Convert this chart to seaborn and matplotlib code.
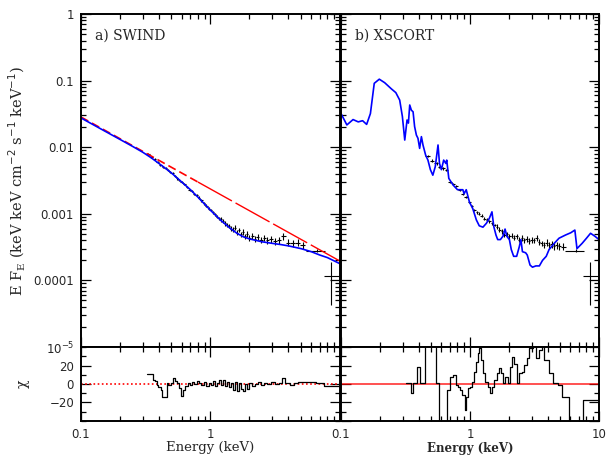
import numpy as np
import matplotlib
matplotlib.use("Agg")
import matplotlib.pyplot as plt
import seaborn as sns
from matplotlib.ticker import LogLocator, MultipleLocator, NullFormatter

# ---- panel a) SWIND : model curves ----
sw_model_e = [0.1, 0.15, 0.2, 0.25, 0.3, 0.35, 0.4, 0.45, 0.5, 0.6, 0.7, 0.8, 0.9, 1.0,
              1.2, 1.4, 1.6, 1.8, 2.0, 2.5, 3.0, 3.5, 4.0, 5.0, 6.0, 7.0, 8.0, 10.0]
sw_model_f = [0.0275, 0.0178, 0.0131, 0.0103, 0.0084, 0.0069, 0.0057, 0.0048, 0.0041,
              0.0030, 0.0023, 0.00178, 0.00140, 0.00113, 0.00080, 0.00062, 0.00051,
              0.00045, 0.00042, 0.00038, 0.00036, 0.000345, 0.00033, 0.00030, 0.00027,
              0.00024, 0.00022, 0.000178]
sw_pl_e = [0.1, 0.8, 10.0]
sw_pl_f = [0.0284, 0.0030, 0.000195]

# ---- panel a) unfolded data ----
sw_data_e = [0.33, 0.35, 0.37, 0.39, 0.41, 0.43, 0.45, 0.47, 0.49, 0.51, 0.53, 0.55, 0.57,
             0.60, 0.63, 0.66, 0.69, 0.72, 0.75, 0.78, 0.81, 0.85, 0.89, 0.93, 0.97, 1.01,
             1.05, 1.09, 1.13, 1.17, 1.21, 1.25, 1.30, 1.35, 1.40, 1.45, 1.50, 1.55, 1.60,
             1.66, 1.72, 1.78, 1.85, 1.92, 2.00, 2.10, 2.20, 2.32, 2.45, 2.60, 2.75, 2.95,
             3.15, 3.40, 3.65, 3.95, 4.30, 4.70, 5.15]
sw_data_f = [0.0080, 0.0071, 0.0066, 0.0060, 0.0054, 0.0050, 0.0049, 0.0045, 0.0042,
             0.0041, 0.0037, 0.0034, 0.0032, 0.0030, 0.0028, 0.0025, 0.0023, 0.0022,
             0.0020, 0.0019, 0.00175, 0.00160, 0.00145, 0.00133, 0.00120, 0.00114,
             0.00105, 0.00098, 0.00090, 0.00086, 0.00083, 0.00078, 0.00072, 0.00068,
             0.00066, 0.00060, 0.00058, 0.00062, 0.00052, 0.00057, 0.00049, 0.00053,
             0.00046, 0.00050, 0.00044, 0.00047, 0.00042, 0.00045, 0.00041, 0.00043,
             0.00040, 0.00042, 0.00039, 0.00040, 0.00046, 0.00037, 0.00036, 0.00037,
             0.00034]
sw_data_rel = [0.04] * 20 + [0.05] * 10 + [0.08] * 10 + [0.10] * 10 + [0.12] * 9

# wide high-energy bins (same in both panels)
wide_e = [6.6, 8.5]
wide_elo = [5.5, 7.5]
wide_ehi = [7.6, 10.0]
wide_f = [0.00028, 0.000115]
wide_flo = [0.000265, 0.000042]
wide_fhi = [0.000295, 0.000190]

# ---- panel a) residuals ----
sw_res_edges = [0.325, 0.357, 0.372, 0.384, 0.396, 0.413, 0.426, 0.459, 0.472, 0.493, 0.51,
                0.532, 0.549, 0.575, 0.588, 0.617, 0.635, 0.674, 0.69, 0.72, 0.75, 0.78,
                0.81, 0.85, 0.89, 0.93, 0.97, 1.01, 1.05, 1.09, 1.13, 1.17, 1.21, 1.25,
                1.30, 1.35, 1.40, 1.45, 1.50, 1.55, 1.60, 1.66, 1.72, 1.78, 1.85, 1.92,
                2.00, 2.10, 2.20, 2.32, 2.45, 2.60, 2.75, 2.95, 3.15, 3.40, 3.55, 3.75,
                4.1, 4.4, 4.75, 5.5, 6.5, 7.5, 10.0]
sw_res_chi = [10.5, 4, 3, -1, -3, -6.5, -14.4, 1, -1, 1.6, 6, 3, 1, -4.3, -13, -6.5, -2.5, 1,
              -1, 2, 0, 3, 1, -1, 2, -2, 1, -1, 3, -2, 1, 4, -1, 4, -2, 2, -3, 1, -6, 2,
              -8, 1, -5, -8, 0, -5, 1, -2, 0, 2, -1, 1, 0, 2, 0, 1, 6, 1, -1, 1, 2, 2,
              1, -2]

# ---- panel b) XSCORT : model curve ----
xs_model_e = [0.100, 0.111, 0.124, 0.136, 0.147, 0.158, 0.169, 0.181, 0.198, 0.218, 0.246,
              0.266, 0.285, 0.299, 0.312, 0.325, 0.333, 0.341, 0.351, 0.362, 0.372, 0.384,
              0.395, 0.407, 0.420, 0.432, 0.453, 0.472, 0.493, 0.515, 0.538, 0.565, 0.580,
              0.600, 0.625, 0.650, 0.660, 0.685, 0.740, 0.800, 0.880, 0.900, 0.935, 0.990,
              1.05, 1.12, 1.18, 1.26, 1.34, 1.41, 1.48, 1.53, 1.59, 1.64, 1.72, 1.80, 1.87,
              1.93, 2.02, 2.09, 2.18, 2.30, 2.41, 2.48, 2.55, 2.70, 2.78, 2.92, 3.05, 3.24,
              3.45, 3.65, 3.90, 4.10, 4.50, 4.90, 5.50, 6.05, 6.50, 6.75, 7.40, 8.00, 8.60,
              9.30, 10.0]
xs_model_f = [0.032, 0.0216, 0.026, 0.024, 0.025, 0.022, 0.032, 0.091, 0.105, 0.093, 0.075,
              0.066, 0.051, 0.029, 0.0128, 0.0256, 0.023, 0.043, 0.036, 0.034, 0.0204,
              0.0152, 0.0136, 0.0096, 0.0144, 0.0108, 0.0076, 0.0064, 0.0046, 0.0038,
              0.0051, 0.0108, 0.0057, 0.0046, 0.0064, 0.0057, 0.0064, 0.0034, 0.0027,
              0.0023, 0.0023, 0.0020, 0.0023, 0.0015, 0.0012, 0.00081, 0.00066, 0.00063,
              0.00072, 0.00085, 0.00107, 0.00064, 0.00048, 0.00041, 0.00041, 0.00046,
              0.00059, 0.00046, 0.00041, 0.00029, 0.00023, 0.00023, 0.00032, 0.00041,
              0.00027, 0.00026, 0.00024, 0.00017, 0.000158, 0.000165, 0.000165, 0.00020,
              0.00023, 0.00029, 0.00036, 0.00043, 0.00048, 0.00052, 0.00057, 0.00030,
              0.00036, 0.00043, 0.00051, 0.00046, 0.00041]

# ---- panel b) unfolded data ----
xs_data_e = [0.47, 0.51, 0.55, 0.58, 0.62, 0.65,
             0.70, 0.74, 0.78, 0.83, 0.88, 0.93, 0.99, 1.04, 1.08, 1.13, 1.18, 1.23, 1.29,
             1.35, 1.41, 1.48, 1.55, 1.62, 1.69, 1.77, 1.85, 1.93, 2.02, 2.11, 2.20, 2.30,
             2.41, 2.52, 2.63, 2.75, 2.87, 3.00, 3.14, 3.28, 3.43, 3.60, 3.76, 3.93, 4.10,
             4.30, 4.50, 4.70, 4.90, 5.30]
xs_data_f = [0.0074, 0.0063, 0.0057,
             0.0050, 0.0048, 0.0045, 0.0030, 0.0028, 0.0026, 0.0023, 0.0020, 0.0018,
             0.0015, 0.0013, 0.00114, 0.00106, 0.0010, 0.00094, 0.00085, 0.00082,
             0.00077, 0.00072, 0.00068, 0.00064, 0.00058, 0.00055, 0.00048, 0.00050,
             0.00046, 0.00047, 0.00044, 0.00046, 0.00041, 0.00043, 0.00040, 0.00042,
             0.00039, 0.00041, 0.00040, 0.00043, 0.00038, 0.00036, 0.00034, 0.00037,
             0.00034, 0.00035, 0.00033, 0.00034, 0.00033, 0.00032]
xs_data_rel = [0.04] * 13 + [0.05] * 10 + [0.08] * 10 + [0.10] * 10 + [0.12] * 7

# ---- panel b) residuals ----
xs_res_edges = [0.3215, 0.347, 0.362, 0.3885, 0.4074, 0.4454, 0.4642, 0.5164, 0.548, 0.5745,
                0.6624, 0.6947, 0.7368, 0.7727, 0.8054, 0.8397, 0.870, 0.907, 0.934, 0.9623,
                1.003, 1.039, 1.083, 1.116, 1.15, 1.184, 1.22, 1.256, 1.31, 1.373, 1.431,
                1.483, 1.546, 1.612, 1.67, 1.741, 1.793, 1.869, 1.959, 2.043, 2.117, 2.207,
                2.30, 2.412, 2.529, 2.636, 2.748, 2.88, 3.056, 3.243, 3.442, 3.609, 3.762,
                4.063, 4.363, 4.77, 5.15, 5.867, 7.52, 10.0]
xs_res_chi = [0.7, -10, 0.7, 18.7, 0.7, 45, 55, 45, 0.7, -50, -6.5, 8, 9.7, -1, -3, -6.5,
              -12, -28, -13.7, -4.7, -3, 2.5, 13, 24, 33, 38.5, 26, 11.5, 2.5, -3, -10, -3,
              4.3, 11.5, 17, 11.5, 0.7, 8, 0.7, 18.7, 29.5, 22, 0.7, 11.5, 13, 20.5, 27.7,
              38.5, 45, 27.7, 36.7, 45, 26, 11.5, 0.7, -1, -14.4, -50, -17.3]

BLUE = "#0000ff"
RED = "#ff0000"
SERIF = "DejaVu Serif"

sns.set_style("ticks")
plt.rcParams["font.family"] = ["DejaVu Sans"]
plt.rcParams["mathtext.fontset"] = "dejavusans"


def estilo_eixo(ax, log_y=True):
    ax.set_xscale("log")
    ax.set_xlim(0.1, 10)
    ax.xaxis.set_major_locator(LogLocator(base=10))
    ax.xaxis.set_minor_locator(LogLocator(base=10, subs=np.arange(2, 10)))
    ax.xaxis.set_minor_formatter(NullFormatter())
    if log_y:
        ax.set_yscale("log")
        ax.set_ylim(1e-5, 1)
        ax.yaxis.set_minor_locator(LogLocator(base=10, subs=np.arange(2, 10)))
        ax.yaxis.set_minor_formatter(NullFormatter())
    else:
        ax.set_ylim(-40, 40)
        ax.yaxis.set_major_locator(MultipleLocator(20))
        ax.yaxis.set_minor_locator(MultipleLocator(10))
    ax.tick_params(which="both", direction="in", top=True, right=True,
                   color="black", width=0.9, labelsize=8.5, pad=5)
    ax.tick_params(which="major", length=7)
    ax.tick_params(which="minor", length=3.5)
    for s in ax.spines.values():
        s.set_linewidth(1.4)
        s.set_color("black")
    ax.set_facecolor("white")


def desenhar_dados(ax, e, f, rel):
    e = np.array(e)
    f = np.array(f)
    borda = np.sqrt(e[:-1] * e[1:])
    lo = np.concatenate([[e[0] - (borda[0] - e[0])], borda])
    hi = np.concatenate([borda, [e[-1] + (e[-1] - borda[-1])]])
    ax.errorbar(e, f, xerr=[e - lo, hi - e], yerr=np.array(rel) * f,
                fmt="none", ecolor="black", elinewidth=0.8, zorder=2)
    we = np.array(wide_e)
    wf = np.array(wide_f)
    ax.errorbar(we, wf, xerr=[we - np.array(wide_elo), np.array(wide_ehi) - we],
                yerr=[wf - np.array(wide_flo), np.array(wide_fhi) - wf],
                fmt="none", ecolor="black", elinewidth=0.8, zorder=2)


def desenhar_residuos(ax, edges, chi):
    yy = list(chi) + [chi[-1]]
    sns.lineplot(x=edges, y=yy, drawstyle="steps-post", color="black", lw=0.9,
                 estimator=None, ax=ax, zorder=3)


fig = plt.figure(figsize=(6.07, 4.59), dpi=100)
fig.patch.set_facecolor("white")
ax_a = fig.add_axes([0.1334, 0.244, 0.4267, 0.7255])
ax_b = fig.add_axes([0.5618, 0.244, 0.4250, 0.7255])
ax_ra = fig.add_axes([0.1334, 0.0828, 0.4267, 0.1612])
ax_rb = fig.add_axes([0.5618, 0.0828, 0.4250, 0.1612])

# panel a
estilo_eixo(ax_a)
desenhar_dados(ax_a, sw_data_e, sw_data_f, sw_data_rel)
sns.lineplot(x=sw_pl_e[:2], y=sw_pl_f[:2], color=RED, lw=1.2, linestyle=(0, (5, 2.5)),
             estimator=None, ax=ax_a)
sns.lineplot(x=sw_pl_e[1:], y=sw_pl_f[1:], color=RED, lw=1.0, linestyle=(0, (28, 3)),
             estimator=None, ax=ax_a)
sns.lineplot(x=sw_model_e, y=sw_model_f, color=BLUE, lw=1.2, estimator=None, ax=ax_a)
ax_a.set_yticks([1e-5, 1e-4, 1e-3, 1e-2, 0.1, 1],
                labels=["$10^{-5}$", "0.0001", "0.001", "0.01", "0.1", "1"])
ax_a.tick_params(axis="x", labelbottom=False)
ax_a.set_ylabel("E F$_\\mathregular{E}$ (keV keV cm$^{-2}$ s$^{-1}$ keV$^{-1}$)",
                family=SERIF, fontsize=10.5, labelpad=4)
ax_a.text(0.055, 0.955, "a) SWIND", transform=ax_a.transAxes, family=SERIF,
          fontsize=10, va="top", ha="left")

# panel b
estilo_eixo(ax_b)
desenhar_dados(ax_b, xs_data_e, xs_data_f, xs_data_rel)
sns.lineplot(x=xs_model_e, y=xs_model_f, color=BLUE, lw=1.2, estimator=None, ax=ax_b)
ax_b.tick_params(axis="both", labelbottom=False, labelleft=False)
ax_b.text(0.055, 0.955, "b) XSCORT", transform=ax_b.transAxes, family=SERIF,
          fontsize=10, va="top", ha="left")

# residuals a  (its "10" label sits under the "0.1" of panel b)
estilo_eixo(ax_ra, log_y=False)
ax_ra.axhline(0, color=RED, lw=1.2, linestyle=(0, (1, 1.5)), zorder=2)
desenhar_residuos(ax_ra, sw_res_edges, sw_res_chi)
ax_ra.set_yticks([-20, 0, 20], labels=["\u221220", "0", "20"])
ax_ra.set_xticks([0.1, 1, 10], labels=["0.1", "1", ""])
ax_ra.set_ylabel("\u03c7", family=SERIF, fontsize=10, labelpad=14)
ax_ra.set_xlabel("Energy (keV)", family=SERIF, fontsize=9.5, labelpad=0)

# residuals b
estilo_eixo(ax_rb, log_y=False)
ax_rb.axhline(0, color=RED, lw=1.2, alpha=0.8, zorder=2)
desenhar_residuos(ax_rb, xs_res_edges, xs_res_chi)
ax_rb.set_xticks([0.1, 1, 10], labels=["0.1", "1", "10"])
ax_rb.tick_params(axis="y", labelleft=False)
ax_rb.set_xlabel("Energy (keV)", family=SERIF, fontsize=8.5, fontweight="bold",
                 labelpad=1)

fig.savefig("out.png", dpi=100, facecolor="white")
